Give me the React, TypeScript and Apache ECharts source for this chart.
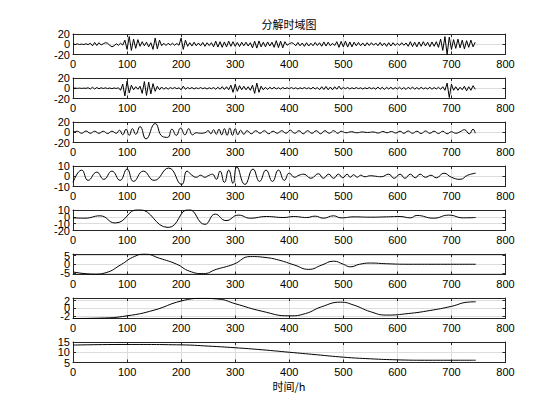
import React, { useEffect, useRef } from "react";
import * as echarts from "echarts";

// ---------- data ----------
const TITLE = "分解时域图";
const X_LABEL = "时间/h";
const X_MIN = 0;
const X_MAX = 800;
const X_INTERVAL = 100;

// IMF1 and IMF2 are sampled every 4 h
const IMF12_STEP = 4;
const imf1 = [
  0.5, -0.5, 0.8, -0.6, 0.4, -0.7, 1, -0.8,
  2, -3, 3.5, -2.5, 3,
  -1.5,
  1, 3, 2, -2, -5, -3,
  1, -2, 2, -1.5,
  8, -10, 15, -12, 10, -8, 9,
  -4, 5, -3, 4, -5, 3,
  -10, 12, -9, 8,
  -3, 2, -2.5, 2, -1.5, 2, -2, 1.5, -2,
  12, -10, 8,
  -4, 3, -3.5, 4, -3, 2.5, -3, 3.5, -4, 3, -2.5, 3,
  -5, 6, -5.5, 5, -6, 4.5, -5, 6, -4, 5,
  -4, 3.5, -4.5, 4, -3, 4, -3.5, 3,
  -7, 6, -7.5, 6.5, -5,
  4, -5, 4.5, -3.5, 4,
  -6, 7, -6.5, 6, -7, 5,
  -2, 1, 3, 1.5,
  -3, 3.5, -3, 2.5, -4, 3, -3.5, 2, -3, 3.5, -2.5, 3,
  -4, 4.5, -3.5, 4, -3,
  2, -2.5,
  5, -6, 5.5, -5, 6, -5.5, 4.5, -5, 4,
  -3, 3.5, -3, 2.5, -3.5, 3, -2.5, 3, -2, 2.5, -3, 3.5, -3, 2.5, -4, 3, -3.5, 3, -2.5,
  2, -2.5, 3, -2, 2.5,
  -4, 5, -4.5, 4, -5, 4.5, -4, 5, -3.5, 4, -5, 4.5, -4, 5, -6,
  10, -12, 15, -20, 14, -10,
  9, -8, 10, -7, 8, -9, 7, -6, 8, -5, 4,
];
const imf2 = [
  0, 0.3, -0.2, 0.3, -0.3, 0.2, -0.2,
  1, -1.5, 2, -1.5, 1.5, -1, 1,
  -0.5, 0.8, -0.6, 0.5, -0.8, 0.6, -0.5, 1,
  -4, 8, -15, 14, -9, 6,
  -3, 3, -2, 4,
  -10, 13, -14, 12, -11, 9, -6, 4,
  -3, 2.5, -2, 1.5, -2, 1.5, -1, 1.5, -1, 1,
  -3, 4, -2,
  1.5, -1, 1.5, -1.5, 1, -1, 1.5, -1, 1, -1.5, 1, -1, 1.5, -2, 2,
  -2, 3, -2.5, 3, -3,
  6, -8, 8, -6, 5,
  -3, 4, -3, 3, -4,
  6, -10, 10, -8, 4,
  -3, 2, -2.5, 2, -1.5, 2, -1.5, 1, -1.5, 1.5, -1, 1,
  -1, 1.5, -1, 1, -1.5, 1, -1, 1.5, -1, 1, -1.5, 2, -1.5, 1.5,
  -3, 3, -2.5, 3.5, -3, 2.5, -3, 3, -2, 4,
  -2, 1.5, -1, 1.5, -1.5, 1, -1, 1.5, -1, 1, -1.5, 1, -1, 1.5, -1, 1,
  -2, 2.5, -2, 2, -2.5, 2, -1.5, 2, -2, 1.5,
  -1.5, 2, -2, 1.5, -2.5, 2, -1.5, 2.5, -2, 1.5, -2, 2, -1.5, 1, -1.5, 2, -2, 1.5, -1.5, 2, -2, 3,
  -4, 10, -18, 8, -4,
  3, -4, 2, -3, 4, -5, 3, -4, 5, -2,
];

const imf3X = [0, 8, 16, 24, 32, 40, 48, 56, 64, 72, 80, 86, 92, 98, 104, 110, 116, 124, 135, 152, 165, 175, 183, 191, 199, 207, 214, 221, 228, 236, 244, 250, 255, 260, 265, 270, 275, 280, 285, 290, 295, 300, 305, 310, 316, 322, 330, 338, 346, 354, 362, 370, 378, 386, 394, 402, 410, 418, 426, 434, 442, 450, 458, 466, 474, 482, 490, 496, 505, 515, 525, 535, 545, 555, 565, 573, 581, 589, 597, 605, 612, 620, 628, 636, 644, 652, 660, 668, 676, 684, 692, 700, 708, 716, 724, 733, 740, 744];
const imf3Y = [0, 2, -2, 2.5, -2, 2, -2, 2, -2.5, 2, -2, 4, -5, 6, -6, 7, -4, 11, -13, 17, -8, -10, 6, -6, 8, -5, 7, -5, -1, -2, -1, 3, -3, 5, -4, 6, -5, 7, -6, 8, -6, 7, -5, 4, -4, 3, -3, 3, -2, 3, -3, 2, -2, 3, -2, 4, -2, 3, -3, 3, -2, 3, -3, 3, -2, 3, -2, 2, -1, 1, -1, 0.5, -0.5, 0.5, -1.5, 1.5, -1, 1.5, -1.5, 2, -2, 2.5, -2, 2, -2.5, 2.5, -2, 2, -2.5, 2, -3, 1, -2, 1, 5, -3, 6, -2];

const imf4X = [0, 16, 28, 44, 57, 72, 87, 100, 112, 130, 150, 177, 201, 211, 220, 228, 236, 244, 250, 258, 265, 272, 280, 288, 296, 303, 318, 333, 345, 357, 369, 380, 391, 400, 410, 418, 427, 440, 454, 463, 473, 482, 491, 499, 507, 513, 519, 526, 532, 540, 550, 560, 570, 584, 594, 605, 614, 624, 633, 642, 652, 662, 672, 686, 700, 716, 730, 745];
const imf4Y = [-6, 6, -4, 4, -3, 5, -4, 7, -5, 5, -4, 8, -8, 5, 1, -1, 1, -1, 0.5, 2, -3, 5, -6, 6, -7, 9, -8, 7, -5, 6, -5, 6, -4, 3, -1, 1, 2, -2, 2.5, -2, 2, -2, 2, -1.5, 2, -1, 1.5, -1, 1, -0.5, 0.5, 0, -0.5, 2, -2, 2, -2, 2, -1.5, 2, -1, 1, -1.5, 3, -1, -3, 1, 3];

const imf5X = [0, 22, 50, 78, 121, 176, 214, 244, 263, 283, 306, 328, 358, 390, 408, 432, 448, 463, 482, 496, 520, 550, 580, 605, 624, 636, 667, 695, 722, 745];
const imf5Y = [-1.5, -2, 1.5, -9, 11, -15.5, 11, -11, 4, -5.5, 2.5, -2, 0.5, -1, 0.5, -1, 1, -2, 1.5, -1.5, 0, -0.5, 0, 0.5, -1.5, 2, -2, 2.5, -1.5, -1];

const imf6X = [0, 40, 60, 90, 110, 133, 160, 192, 215, 241, 265, 297, 328, 355, 380, 410, 436, 460, 482, 500, 513, 530, 550, 580, 620, 680, 745];
const imf6Y = [-4.5, -5.8, -5, 0, 4, 6, 3.5, 0, -4, -5.5, -3, 0, 4.5, 4, 2.5, -0.5, -3, -0.5, 1.8, 0, -1.5, 0, 0.7, 0.3, 0, 0, 0];

const imf7X = [0, 50, 100, 150, 200, 240, 270, 300, 350, 400, 430, 460, 495, 520, 550, 580, 620, 660, 700, 730, 745];
const imf7Y = [-2.7, -2.6, -2, -0.5, 1.9, 2.6, 2.4, 1.2, -0.8, -2, -1.4, 0.4, 1.6, 0.8, -0.9, -1.8, -1.4, -0.6, 0.5, 1.6, 1.7];

const resX = [0, 100, 200, 250, 300, 350, 400, 450, 500, 550, 600, 650, 700, 745];
const resY = [13.5, 13.8, 13.6, 13, 12.2, 11.2, 10, 8.8, 7.6, 6.8, 6.3, 6.1, 6.1, 6.1];

// y-axis limits and tick labels per panel
const yMins = [-20, -20, -20, -10, -20, -6, -2.7, 5];
const yMaxs = [20, 20, 20, 10, 10, 6, 2.7, 15];
const yTicks = [
  [-20, 0, 20],
  [-20, 0, 20],
  [-20, 0, 20],
  [-10, 0, 10],
  [-20, -10, 0, 10],
  [-5, 0, 5],
  [-2, 0, 2],
  [5, 10, 15],
];

// ---------- helpers ----------
const stepped = (vals: number[], step: number) => vals.map((v, i) => [i * step, v]);
const paired = (xs: number[], ys: number[]) => xs.map((x, i) => [x, ys[i]]);

const FONT = "Arial, 'Liberation Sans', Helvetica, sans-serif";
const CJK = "'Noto Sans CJK SC', 'Noto Sans', sans-serif";
const BOX = "#262626";
const GRIDC = "#dddddd";

export default function App() {
  const ref = useRef<HTMLDivElement>(null);

  useEffect(() => {
    document.body.style.margin = "0";
    if (!ref.current) return;
    const chart = echarts.init(ref.current, undefined, { renderer: "svg" });

    const panels = [
      { data: stepped(imf1, IMF12_STEP), smooth: false },
      { data: stepped(imf2, IMF12_STEP), smooth: false },
      { data: paired(imf3X, imf3Y), smooth: 0.5 },
      { data: paired(imf4X, imf4Y), smooth: 0.5 },
      { data: paired(imf5X, imf5Y), smooth: 0.5 },
      { data: paired(imf6X, imf6Y), smooth: 0.5 },
      { data: paired(imf7X, imf7Y), smooth: 0.5 },
      { data: paired(resX, resY), smooth: 0.5 },
    ];

    const grids: any[] = [];
    const xAxes: any[] = [];
    const yAxes: any[] = [];
    const series: any[] = [];

    panels.forEach((p, k) => {
      grids.push({ left: 73, width: 432.5, top: 34 + 44 * k, height: 20.5, show: false });
      const xBase = {
        type: "value",
        gridIndex: k,
        min: X_MIN,
        max: X_MAX,
        interval: X_INTERVAL,
        axisLine: { show: true, onZero: false, lineStyle: { color: BOX, width: 1 } },
        axisTick: { show: true, inside: true, length: 3, lineStyle: { color: BOX } },
      };
      const xIndex = xAxes.length;
      xAxes.push({
        ...xBase,
        position: "bottom",
        axisLabel: {
          show: true,
          color: "#000",
          fontSize: 11,
          fontFamily: FONT,
          margin: 4,
          showMinLabel: true,
          showMaxLabel: true,
          hideOverlap: false,
        },
        splitLine: { show: true, lineStyle: { color: GRIDC, width: 1 } },
      });
      xAxes.push({
        ...xBase,
        position: "top",
        axisLabel: { show: false },
        splitLine: { show: false },
      });
      const yBase = {
        type: "value",
        gridIndex: k,
        min: yMins[k],
        max: yMaxs[k],
      };
      const yIndex = yAxes.length;
      // main left axis: line, ticks, grid lines
      yAxes.push({
        ...yBase,
        position: "left",
        axisLine: { show: true, onZero: false, lineStyle: { color: BOX, width: 1 } },
        axisTick: { show: true, inside: true, length: 3, lineStyle: { color: BOX }, customValues: yTicks[k] },
        axisLabel: { show: false },
        splitLine: { show: true, lineStyle: { color: GRIDC, width: 1 } },
      });
      // right axis: box side with ticks
      yAxes.push({
        ...yBase,
        position: "right",
        axisLine: { show: true, onZero: false, lineStyle: { color: BOX, width: 1 } },
        axisTick: { show: true, inside: true, length: 3, lineStyle: { color: BOX }, customValues: yTicks[k] },
        axisLabel: { show: false },
        splitLine: { show: false },
      });
      // one label-only axis per tick so that overlapping labels are all kept
      yTicks[k].forEach((v) => {
        yAxes.push({
          ...yBase,
          position: "left",
          offset: 0,
          axisLine: { show: false },
          axisTick: { show: false, customValues: [v] },
          splitLine: { show: false },
          axisLabel: {
            show: true,
            color: "#000",
            fontSize: 11,
            fontFamily: FONT,
            margin: 3,
            customValues: [v],
            showMinLabel: true,
            showMaxLabel: true,
            hideOverlap: false,
          },
        });
      });
      series.push({
        type: "line",
        xAxisIndex: xIndex,
        yAxisIndex: yIndex,
        data: p.data,
        showSymbol: false,
        symbol: "none",
        smooth: p.smooth,
        clip: true,
        lineStyle: { color: "#000", width: 1 },
        z: 3,
      });
    });

    chart.setOption({
      animation: false,
      backgroundColor: "#fff",
      grid: grids,
      xAxis: xAxes,
      yAxis: yAxes,
      series,
      graphic: [
        {
          type: "text",
          x: 289,
          y: 24,
          style: { text: TITLE, align: "center", verticalAlign: "middle", font: `11px ${CJK}`, fill: "#000" },
        },
        {
          type: "text",
          x: 289,
          y: 386,
          style: { text: X_LABEL, align: "center", verticalAlign: "middle", font: `11px ${CJK}`, fill: "#000" },
        },
      ],
    });

    return () => chart.dispose();
  }, []);

  return (
    <div
      ref={ref}
      style={{ position: "absolute", left: 0, top: 0, width: 560, height: 420, background: "#fff" }}
    />
  );
}
